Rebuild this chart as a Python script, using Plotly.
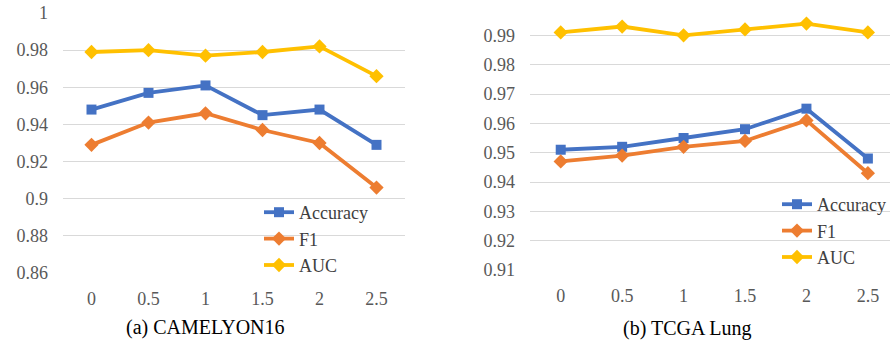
import plotly.graph_objects as go

x_labels = ["0", "0.5", "1", "1.5", "2", "2.5"]

cam_accuracy = [0.948, 0.957, 0.961, 0.945, 0.948, 0.929]
cam_f1 = [0.929, 0.941, 0.946, 0.937, 0.930, 0.906]
cam_auc = [0.979, 0.980, 0.977, 0.979, 0.982, 0.966]

tcga_accuracy = [0.951, 0.952, 0.955, 0.958, 0.965, 0.948]
tcga_f1 = [0.947, 0.949, 0.952, 0.954, 0.961, 0.943]
tcga_auc = [0.991, 0.993, 0.990, 0.992, 0.994, 0.991]

left_yticks = [0.86, 0.88, 0.9, 0.92, 0.94, 0.96, 0.98, 1]
left_ytext = ["0.86", "0.88", "0.9", "0.92", "0.94", "0.96", "0.98", "1"]
right_yticks = [0.91, 0.92, 0.93, 0.94, 0.95, 0.96, 0.97, 0.98, 0.99, 1]
right_ytext = ["0.91", "0.92", "0.93", "0.94", "0.95", "0.96", "0.97", "0.98", "0.99", "1"]

BLUE = "#4472C4"
ORANGE = "#ED7D31"
GOLD = "#FFC000"
FONT = "Liberation Serif"
W, H = 890, 343

fig = go.Figure()

def add_series(xa, ya, legend, acc, f1, auc):
    specs = [("Accuracy", acc, BLUE, "square", 10),
             ("F1", f1, ORANGE, "diamond", 11),
             ("AUC", auc, GOLD, "diamond", 11)]
    for name, vals, col, sym, sz in specs:
        fig.add_trace(go.Scatter(
            x=x_labels, y=vals, name=name, mode="lines+markers",
            xaxis=xa, yaxis=ya, legend=legend,
            line=dict(color=col, width=3.8),
            marker=dict(symbol=sym, size=sz, color=col),
        ))

add_series("x", "y", "legend", cam_accuracy, cam_f1, cam_auc)
add_series("x2", "y2", "legend2", tcga_accuracy, tcga_f1, tcga_auc)

axis_font = dict(family=FONT, size=18, color="#595959")
grid = dict(showgrid=True, gridcolor="#D9D9D9", gridwidth=1, zeroline=False,
            showline=False, ticks="", tickfont=axis_font, automargin=False)
xcommon = dict(type="category", showgrid=False, zeroline=False, showline=False,
               ticks="", tickfont=axis_font, ticklabelstandoff=13, automargin=False)

fig.update_layout(
    template="none",
    width=W, height=H,
    margin=dict(l=0, r=0, t=0, b=0, autoexpand=False),
    paper_bgcolor="white", plot_bgcolor="white",
    font=dict(family=FONT, size=18, color="#595959"),
    xaxis=dict(domain=[63 / W, 405 / W], range=[-0.5, 5.5], anchor="y", **xcommon),
    yaxis=dict(domain=[(H - 273) / H, (H - 13) / H], range=[0.86, 1.0],
               tickvals=left_yticks, ticktext=left_ytext, anchor="x",
               ticklabelstandoff=14, **grid),
    xaxis2=dict(domain=[530 / W, 1.0], range=[-0.5, 5.36], anchor="y2", **xcommon),
    yaxis2=dict(domain=[(H - 270) / H, (H - 6) / H], range=[0.91, 1.0],
                tickvals=right_yticks, ticktext=right_ytext, anchor="x2",
                ticklabelstandoff=14, **grid),
    legend=dict(x=259 / W, y=(H - 194) / H, xanchor="left", yanchor="top",
                bgcolor="rgba(0,0,0,0)", font=dict(family=FONT, size=18, color="#404040"),
                tracegroupgap=0, itemclick=False),
    legend2=dict(x=777 / W, y=(H - 186) / H, xanchor="left", yanchor="top",
                 bgcolor="rgba(0,0,0,0)", font=dict(family=FONT, size=18, color="#404040"),
                 tracegroupgap=0, itemclick=False),
    showlegend=True,
    hovermode=False,
    annotations=[
        dict(text="(a) CAMELYON16", x=205 / W, y=(H - 327) / H, xref="paper", yref="paper",
             showarrow=False, font=dict(family=FONT, size=20, color="black"),
             xanchor="center", yanchor="middle"),
        dict(text="(b) TCGA Lung", x=687 / W, y=(H - 328) / H, xref="paper", yref="paper",
             showarrow=False, font=dict(family=FONT, size=20, color="black"),
             xanchor="center", yanchor="middle"),
    ],
)

fig.write_html("out.html", config={"displayModeBar": False},
               post_script="document.body.style.margin='0';document.body.style.overflow='hidden';")
